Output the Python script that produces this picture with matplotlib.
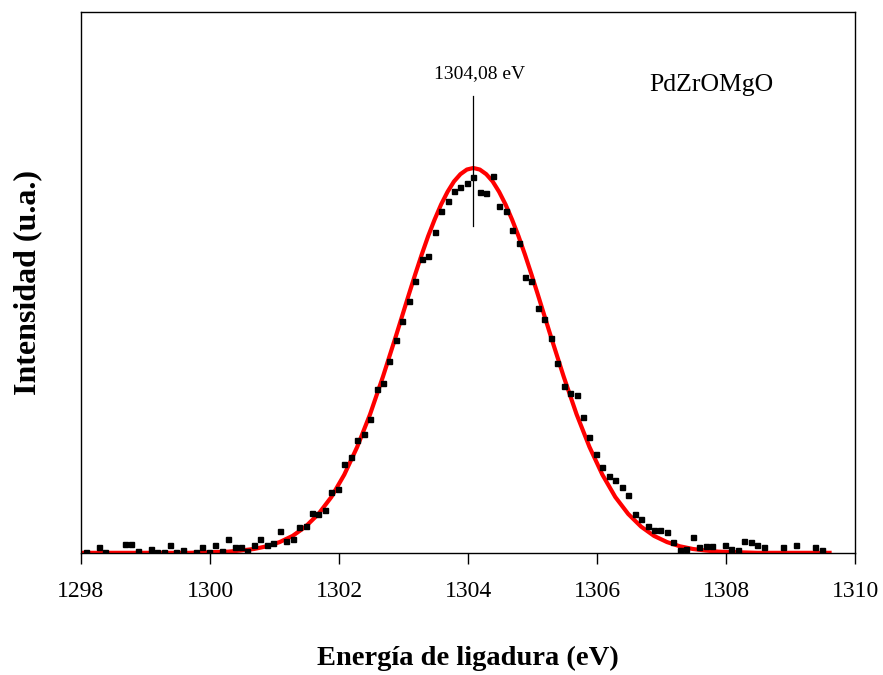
import numpy as np
import matplotlib
matplotlib.use("Agg")
import matplotlib.pyplot as plt

# measured points (binding energy, intensity in a.u., baseline = 0)
energia = [1298.08, 1298.28, 1298.38, 1298.68, 1298.78, 1298.88, 1299.08, 1299.18,
           1299.28, 1299.38, 1299.48, 1299.58, 1299.78, 1299.88, 1299.98, 1300.08,
           1300.18, 1300.28, 1300.38, 1300.48, 1300.58, 1300.68, 1300.78, 1300.88,
           1300.98, 1301.08, 1301.18, 1301.28, 1301.38, 1301.48, 1301.58, 1301.68,
           1301.78, 1301.88, 1301.98, 1302.08, 1302.18, 1302.28, 1302.38, 1302.48,
           1302.58, 1302.68, 1302.78, 1302.88, 1302.98, 1303.08, 1303.18, 1303.28,
           1303.38, 1303.48, 1303.58, 1303.68, 1303.78, 1303.88, 1303.98, 1304.08,
           1304.18, 1304.28, 1304.38, 1304.48, 1304.58, 1304.68, 1304.78, 1304.88,
           1304.98, 1305.08, 1305.18, 1305.28, 1305.38, 1305.48, 1305.58, 1305.68,
           1305.78, 1305.88, 1305.98, 1306.08, 1306.18, 1306.28, 1306.38, 1306.48,
           1306.58, 1306.68, 1306.78, 1306.88, 1306.98, 1307.08, 1307.18, 1307.28,
           1307.38, 1307.48, 1307.58, 1307.68, 1307.78, 1307.98, 1308.08, 1308.18,
           1308.28, 1308.38, 1308.48, 1308.58, 1308.88, 1309.08, 1309.38, 1309.48]
intensidad = [0.002, 0.016, 0.003, 0.023, 0.023, 0.004, 0.010, 0.002,
              0.002, 0.020, 0.002, 0.007, 0.002, 0.014, 0.002, 0.020,
              0.004, 0.037, 0.014, 0.016, 0.004, 0.020, 0.035, 0.020,
              0.025, 0.058, 0.031, 0.037, 0.068, 0.071, 0.103, 0.100,
              0.112, 0.157, 0.166, 0.232, 0.250, 0.292, 0.310, 0.349,
              0.427, 0.442, 0.499, 0.554, 0.603, 0.655, 0.706, 0.764,
              0.772, 0.833, 0.887, 0.913, 0.940, 0.950, 0.961, 0.977,
              0.938, 0.934, 0.980, 0.901, 0.889, 0.839, 0.805, 0.718,
              0.706, 0.637, 0.607, 0.559, 0.494, 0.434, 0.416, 0.410,
              0.352, 0.301, 0.256, 0.222, 0.200, 0.190, 0.170, 0.149,
              0.101, 0.089, 0.071, 0.060, 0.060, 0.054, 0.029, 0.008,
              0.010, 0.041, 0.014, 0.017, 0.017, 0.020, 0.010, 0.007,
              0.032, 0.029, 0.020, 0.014, 0.014, 0.020, 0.014, 0.008]

# fitted curve
ajuste_x = [1298.0, 1299.48, 1299.68, 1299.88, 1300.08, 1300.28, 1300.48, 1300.68,
            1300.88, 1301.08, 1301.28, 1301.48, 1301.68, 1301.88, 1302.08, 1302.28,
            1302.48, 1302.68, 1302.88, 1303.08, 1303.18, 1303.28, 1303.38, 1303.48,
            1303.58, 1303.68, 1303.78, 1303.88, 1303.98, 1304.08, 1304.18, 1304.28,
            1304.38, 1304.48, 1304.58, 1304.68, 1304.78, 1304.88, 1304.98, 1305.08,
            1305.28, 1305.48, 1305.68, 1305.88, 1306.08, 1306.28, 1306.48, 1306.68,
            1306.88, 1307.08, 1307.28, 1307.48, 1307.68, 1307.88, 1308.08, 1308.28,
            1308.48, 1309.6]
ajuste_y = [0.0, 0.0, 0.000, 0.001, 0.002, 0.003, 0.006, 0.010,
            0.017, 0.028, 0.044, 0.068, 0.101, 0.145, 0.203, 0.275,
            0.360, 0.458, 0.563, 0.671, 0.724, 0.775, 0.823, 0.866,
            0.905, 0.938, 0.965, 0.984, 0.996, 1.000, 0.996, 0.984,
            0.965, 0.938, 0.905, 0.866, 0.823, 0.775, 0.724, 0.671,
            0.563, 0.458, 0.360, 0.275, 0.203, 0.145, 0.101, 0.068,
            0.044, 0.028, 0.017, 0.010, 0.006, 0.003, 0.002, 0.001,
            0.000, 0.0]

pico = 1304.08

plt.rcParams['font.family'] = ['Liberation Serif', 'DejaVu Serif']

fig = plt.figure(figsize=(8.83, 6.75), dpi=100)
ax = fig.add_axes([0.0917, 0.181, 0.877, 0.801])

ax.plot(energia, intensidad, 's', color='black', markersize=3.6, zorder=3)
ax.plot(ajuste_x, ajuste_y, '-', color='#ff0000', linewidth=3, zorder=2,
        solid_joinstyle='round')

ax.plot([pico, pico], [0.849, 1.187], color='black', linewidth=0.9)
ax.text(pico + 0.1, 1.245, '1304,08 eV', ha='center', va='center', fontsize=14)
ax.text(1307.77, 1.216, 'PdZrOMgO', ha='center', va='center', fontsize=18.5)

ax.set_xlim(1298, 1310)
ax.set_ylim(0, 1.405)
ax.set_xticks([1298, 1300, 1302, 1304, 1306, 1308, 1310])
ax.set_yticks([])
ax.tick_params(axis='x', direction='out', length=8, width=1, pad=12, labelsize=17)
for s in ax.spines.values():
    s.set_linewidth(1)

ax.set_xlabel('Energía de ligadura (eV)', fontsize=20.5, fontweight='bold', labelpad=32)
ax.set_ylabel('Intensidad (u.a.)', fontsize=23, fontweight='bold', labelpad=28)

fig.savefig('out.png', dpi=100)
